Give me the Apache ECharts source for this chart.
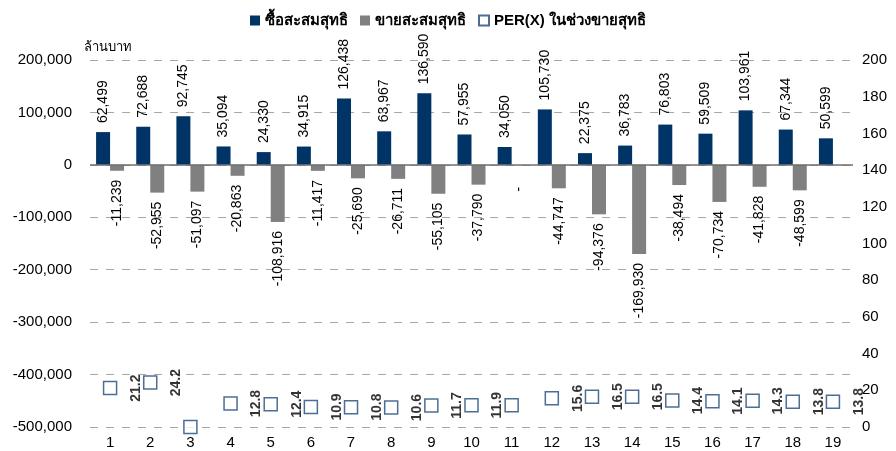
<!DOCTYPE html>
<html>
<head>
<meta charset="utf-8">
<script src="https://cdn.jsdelivr.net/npm/echarts@6/dist/echarts.min.js"></script>
<style>
html,body{margin:0;padding:0;background:#fff;}
#chart{width:896px;height:451px;}
</style>
</head>
<body>
<div id="chart"></div>
<script>
const categories = ['1','2','3','4','5','6','7','8','9','10','11','12','13','14','15','16','17','18','19'];
const buyValues = [62499, 72688, 92745, 35094, 24330, 34915, 126438, 63967, 136590, 57955, 34050, 105730, 22375, 36783, 76803, 59509, 103961, 67344, 50599];
const sellValues = [-11239, -52955, -51097, -20863, -108916, -11417, -25690, -26711, -55105, -37790, 0, -44747, -94376, -169930, -38494, -70734, -41828, -48599, null];
const perValues = [21.2, 24.2, 0, 12.8, 12.4, 10.9, 10.8, 10.6, 11.7, 11.9, 11.9, 15.6, 16.5, 16.5, 14.4, 14.1, 14.3, 13.8, 13.8];
const perLabels = ['21.2', '24.2', '', '12.8', '12.4', '10.9', '10.8', '10.6', '11.7', '11.9', '', '15.6', '16.5', '16.5', '14.4', '14.1', '14.3', '13.8', '13.8'];
const leftTicks = { min: -500000, max: 200000, interval: 100000 };
const rightTicks = { min: 0, max: 200, interval: 20 };
const seriesNames = ['ซื้อสะสมสุทธิ', 'ขายสะสมสุทธิ', 'PER(X) ในช่วงขายสุทธิ'];
const unitLabel = 'ล้านบาท';

const FONT = "Arial, 'Liberation Sans', Tahoma, sans-serif";
const fmt = v => v === 0 ? '0' : Number(v).toLocaleString('en-US');

const chart = echarts.init(document.getElementById('chart'), null, { renderer: 'canvas' });

const sellData = sellValues.map(v => {
  if (v === 0) return { value: 0, label: { distance: 22 } };
  return v;
});

chart.setOption({
  animation: false,
  backgroundColor: '#ffffff',
  textStyle: { fontFamily: FONT },
  legend: {
    top: 8,
    left: 'center',
    itemWidth: 10,
    itemHeight: 10,
    itemGap: 12,
    textStyle: { fontSize: 15, fontWeight: 'bold', color: '#000', fontFamily: FONT },
    data: [
      { name: seriesNames[0], icon: 'rect' },
      { name: seriesNames[1], icon: 'rect' },
      { name: seriesNames[2], icon: 'rect' }
    ]
  },
  grid: { left: 90, right: 43, top: 60, bottom: 24, containLabel: false },
  xAxis: {
    type: 'category',
    data: categories,
    axisLine: { show: false },
    axisTick: { show: false },
    axisLabel: { fontSize: 15, color: '#000', margin: 8, fontFamily: FONT },
    splitLine: { show: false }
  },
  yAxis: [
    {
      type: 'value',
      min: leftTicks.min,
      max: leftTicks.max,
      interval: leftTicks.interval,
      name: unitLabel,
      nameLocation: 'end',
      nameGap: 6,
      nameTextStyle: { fontSize: 13, color: '#000', align: 'left', padding: [0, 0, 0, -6], fontFamily: FONT },
      axisLine: { show: false },
      axisTick: { show: false },
      axisLabel: { fontSize: 15, color: '#000', margin: 18, formatter: fmt, fontFamily: FONT },
      splitLine: { show: true, lineStyle: { color: '#a6a6a6', type: [8, 8], width: 1 } }
    },
    {
      type: 'value',
      min: rightTicks.min,
      max: rightTicks.max,
      interval: rightTicks.interval,
      axisLine: { show: false },
      axisTick: { show: false },
      axisLabel: { fontSize: 15, color: '#000', margin: 9, fontFamily: FONT },
      splitLine: { show: false }
    }
  ],
  series: [
    {
      name: seriesNames[0],
      type: 'bar',
      data: buyValues,
      barWidth: 14,
      barGap: '0%',
      itemStyle: { color: '#003366' },
      label: {
        show: true,
        position: 'top',
        distance: 9,
        rotate: 90,
        align: 'left',
        verticalAlign: 'middle',
        fontSize: 14,
        color: '#000',
        fontFamily: FONT,
        formatter: p => fmt(p.value)
      },
      markLine: {
        silent: true,
        symbol: 'none',
        label: { show: false },
        lineStyle: { color: '#6e6e6e', type: 'solid', width: 1.5 },
        data: [{ yAxis: 0 }]
      },
      z: 3
    },
    {
      name: seriesNames[1],
      type: 'bar',
      data: sellData,
      barWidth: 14,
      barGap: '0%',
      itemStyle: { color: '#808080' },
      label: {
        show: true,
        position: 'bottom',
        distance: 9,
        rotate: 90,
        align: 'right',
        verticalAlign: 'middle',
        fontSize: 14,
        color: '#000',
        fontFamily: FONT,
        formatter: p => (p.value === 0 ? '-' : fmt(p.value))
      },
      z: 2
    },
    {
      name: seriesNames[2],
      type: 'scatter',
      yAxisIndex: 1,
      data: perValues,
      symbol: 'rect',
      symbolSize: 13,
      itemStyle: { color: '#ffffff', borderColor: '#1f4a7a', borderWidth: 1.5 },
      label: {
        show: true,
        position: 'inside',
        rotate: 90,
        offset: [0, 26],
        align: 'center',
        verticalAlign: 'middle',
        fontSize: 14,
        fontWeight: 'bold',
        color: '#000',
        fontFamily: FONT,
        formatter: p => perLabels[p.dataIndex]
      },
      z: 5
    }
  ]
});
</script>
</body>
</html>
